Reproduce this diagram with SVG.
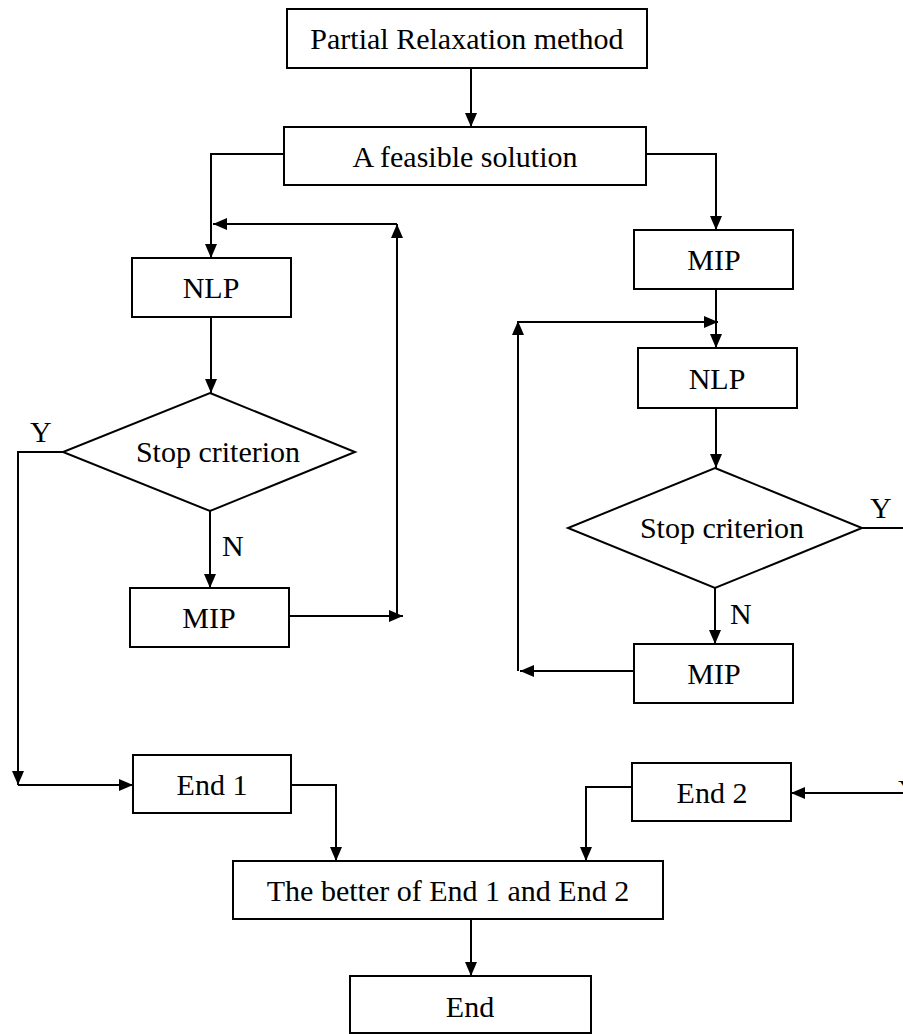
<svg xmlns="http://www.w3.org/2000/svg" width="903" height="1034" viewBox="0 0 903 1034">
<style>
.box{fill:#fff;stroke:#000;stroke-width:2}
.t{font-family:"Liberation Serif","Times New Roman",serif;font-size:30px;fill:#000;text-anchor:middle}
.lbl{font-family:"Liberation Serif","Times New Roman",serif;font-size:30px;fill:#000}
.c{fill:none;stroke:#000;stroke-width:2}
</style>
<defs>
<marker id="ah" viewBox="0 0 14 12" refX="14" refY="6" markerWidth="14" markerHeight="12" markerUnits="userSpaceOnUse" orient="auto">
<path d="M0,0 L14,6 L0,12 z" fill="#000"/>
</marker>
</defs>
<rect width="903" height="1034" fill="#fff"/>
<g id="connectors">
<path class="c" d="M471,68 V127" marker-end="url(#ah)"/>
<path class="c" d="M284,154 H211 V258" marker-end="url(#ah)"/>
<path class="c" d="M211,317 V393" marker-end="url(#ah)"/>
<path class="c" d="M210,511 V588" marker-end="url(#ah)"/>
<path class="c" d="M289,616 H403" marker-end="url(#ah)"/>
<path class="c" d="M397,616 V224" marker-end="url(#ah)"/>
<path class="c" d="M397,224 H213" marker-end="url(#ah)"/>
<path class="c" d="M63,452 H18 V785" marker-end="url(#ah)"/>
<path class="c" d="M18,785 H133" marker-end="url(#ah)"/>
<path class="c" d="M291,785 H336 V861" marker-end="url(#ah)"/>
<path class="c" d="M646,154 H716 V230" marker-end="url(#ah)"/>
<path class="c" d="M716,289 V348" marker-end="url(#ah)"/>
<path class="c" d="M518,671 V321" marker-end="url(#ah)"/>
<path class="c" d="M518,322 H718" marker-end="url(#ah)"/>
<path class="c" d="M716,408 V468" marker-end="url(#ah)"/>
<path class="c" d="M715,588 V644" marker-end="url(#ah)"/>
<path class="c" d="M634,671 H520" marker-end="url(#ah)"/>
<path class="c" d="M862,528 H910 V793 H791" marker-end="url(#ah)"/>
<path class="c" d="M632,787 H586 V861" marker-end="url(#ah)"/>
<path class="c" d="M471,919 V976" marker-end="url(#ah)"/>
<text class="lbl" x="30" y="442">Y</text>
<text class="lbl" x="222" y="556">N</text>
<text class="lbl" x="870" y="518">Y</text>
<text class="lbl" x="730" y="624">N</text>
<text class="lbl" x="898" y="800">Y</text>
</g>
<g id="start"><rect class="box" x="287" y="9" width="360" height="59"/><text class="t" x="467" y="49">Partial Relaxation method</text></g>
<g id="feasible"><rect class="box" x="284" y="127" width="362" height="58"/><text class="t" x="465" y="167">A feasible solution</text></g>
<g id="nlp1"><rect class="box" x="132" y="258" width="159" height="59"/><text class="t" x="211" y="298">NLP</text></g>
<g id="stop1"><polygon class="box" points="210,393 355,452 210,511 63,452"/><text class="t" x="218" y="462">Stop criterion</text></g>
<g id="mip1"><rect class="box" x="130" y="588" width="159" height="59"/><text class="t" x="209" y="628">MIP</text></g>
<g id="mip2a"><rect class="box" x="634" y="230" width="159" height="59"/><text class="t" x="714" y="270">MIP</text></g>
<g id="nlp2"><rect class="box" x="638" y="348" width="159" height="60"/><text class="t" x="717" y="389">NLP</text></g>
<g id="stop2"><polygon class="box" points="715,468 862,528 715,588 568,528"/><text class="t" x="722" y="538">Stop criterion</text></g>
<g id="mip2b"><rect class="box" x="634" y="644" width="159" height="59"/><text class="t" x="714" y="684">MIP</text></g>
<g id="end1"><rect class="box" x="133" y="755" width="158" height="58"/><text class="t" x="212" y="795">End 1</text></g>
<g id="end2"><rect class="box" x="632" y="763" width="159" height="58"/><text class="t" x="712" y="803">End 2</text></g>
<g id="better"><rect class="box" x="233" y="861" width="430" height="58"/><text class="t" x="448" y="901">The better of End 1 and End 2</text></g>
<g id="end"><rect class="box" x="350" y="976" width="241" height="57"/><text class="t" x="470" y="1017">End</text></g>
</svg>
